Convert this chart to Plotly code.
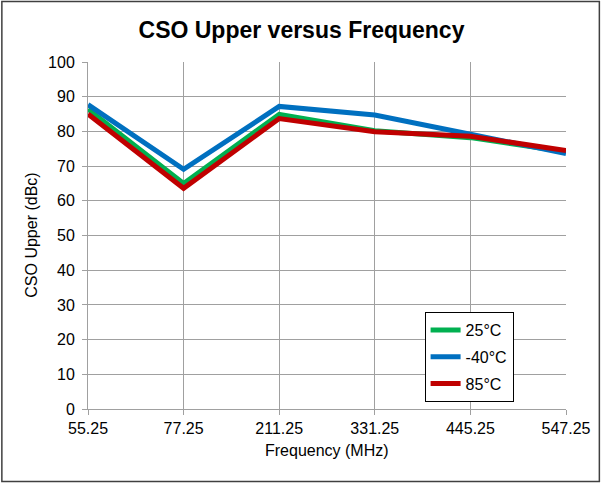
import plotly.graph_objects as go

frequencies = ["55.25", "77.25", "211.25", "331.25", "445.25", "547.25"]
cso_25c = [86.4, 65.0, 84.9, 80.2, 78.2, 74.1]
cso_m40c = [87.7, 69.1, 87.2, 84.7, 79.2, 73.6]
cso_85c = [85.0, 63.6, 83.7, 79.9, 78.6, 74.5]
series_names = ["25°C", "-40°C", "85°C"]
y_ticks = list(range(0, 101, 10))

W, H = 603, 483
L, R, T, B = 88, 568, 62, 409

def px(x):
    return (x - L) / (R - L)

def py(y):
    return (B - y) / (B - T)

colors = ["#00B050", "#0070C0", "#C00000"]
fig = go.Figure()
for i, (name, vals) in enumerate(zip(series_names, [cso_25c, cso_m40c, cso_85c])):
    fig.add_trace(go.Scatter(
        x=frequencies, y=vals, name=name, mode="lines",
        line=dict(color=colors[i], width=5), legendgroup=name,
    ))

grid = "#A0A0A0"
fig.update_layout(
    width=W, height=H,
    margin=dict(l=L, r=W - R, t=T, b=H - B),
    paper_bgcolor="white", plot_bgcolor="white",
    font=dict(family="Liberation Sans, Arial, sans-serif", size=16, color="black"),
    title=dict(text="<b>CSO Upper versus Frequency</b>", x=0.5, xref="container", xanchor="center",
               y=1 - 30 / H, yref="container", yanchor="middle",
               font=dict(size=23, color="black")),
    showlegend=True,
    legend=dict(x=px(426), y=py(312), xanchor="left", yanchor="top",
                bordercolor="black", borderwidth=1, bgcolor="white",
                font=dict(size=16), tracegroupgap=3, itemwidth=30),
    xaxis=dict(type="category", range=[0, 5], showgrid=True, gridcolor=grid, gridwidth=1,
               showline=True, linecolor=grid, linewidth=1, ticks="outside", ticklen=5,
               tickcolor=grid, tickfont=dict(size=16), zeroline=False, fixedrange=True),
    yaxis=dict(range=[0, 100], tickvals=y_ticks, showgrid=True, gridcolor=grid, gridwidth=1,
               showline=True, linecolor=grid, linewidth=1, ticks="outside", ticklen=5,
               tickcolor=grid, tickfont=dict(size=16), zeroline=False, fixedrange=True,
               ticklabelstandoff=4),
    annotations=[
        dict(text="Frequency (MHz)", x=px(328), y=py(451), xref="paper", yref="paper",
             showarrow=False, xanchor="center", yanchor="middle", font=dict(size=16)),
        dict(text="CSO Upper (dBc)", x=px(31), y=py(235.5), xref="paper", yref="paper",
             showarrow=False, xanchor="center", yanchor="middle", textangle=-90,
             font=dict(size=16)),
    ],
    shapes=[dict(type="rect", xref="paper", yref="paper", x0=px(1.5), x1=px(601.5),
                 y0=py(481.5), y1=py(1.5), line=dict(color="#404040", width=1.5))],
)
fig.write_html("out.html", config={"displayModeBar": False},
               post_script="document.body.style.margin='0';document.body.style.overflow='hidden';")
